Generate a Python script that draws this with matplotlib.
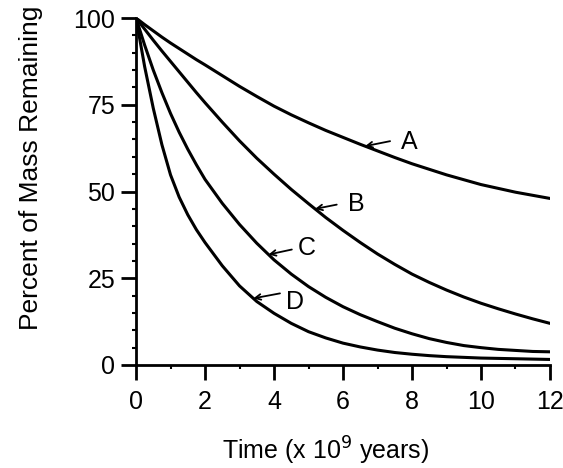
import numpy as np
import matplotlib
matplotlib.use("Agg")
import matplotlib.pyplot as plt
from matplotlib.ticker import MultipleLocator

# values (time in 10^9 years, percent of mass left)
time = [0, 0.25, 0.5, 0.75, 1, 1.25, 1.5, 1.75, 2, 2.5, 3, 3.5, 4, 4.5, 5, 5.5,
        6, 6.5, 7, 7.5, 8, 8.5, 9, 9.5, 10, 10.5, 11, 11.5, 12]
mass_a = [100, 98.1, 96.3, 94.5, 92.8, 91.2, 89.6, 88.0, 86.5, 83.4, 80.3, 77.4, 74.6, 72.1, 69.8, 67.6,
          65.6, 63.6, 61.7, 59.8, 58.0, 56.4, 54.8, 53.4, 52.0, 50.9, 49.8, 48.9, 48.0]
mass_b = [100, 96.8, 93.6, 90.5, 87.5, 84.5, 81.5, 78.5, 75.6, 70.0, 64.6, 59.6, 55.0, 50.6, 46.5, 42.5,
          38.8, 35.3, 32.0, 29.0, 26.2, 23.8, 21.6, 19.6, 17.8, 16.2, 14.7, 13.3, 12.0]
mass_c = [100, 92.2, 85.0, 78.5, 72.5, 67.1, 62.2, 57.7, 53.5, 46.6, 40.5, 35.1, 30.3, 26.2, 22.6, 19.5,
          16.8, 14.5, 12.5, 10.6, 9.0, 7.6, 6.5, 5.6, 5.0, 4.5, 4.2, 3.9, 3.8]
mass_d = [100, 86.0, 74.0, 63.5, 54.8, 48.4, 43.3, 39.0, 35.3, 28.6, 22.8, 18.3, 14.9, 12.0, 9.6, 7.8,
          6.3, 5.2, 4.3, 3.6, 3.1, 2.7, 2.4, 2.2, 2.0, 1.9, 1.8, 1.7, 1.6]

curve_names = ["A", "B", "C", "D"]
label_times = [6.64, 5.19, 3.84, 3.4]   # where each label arrow touches its curve
arrow_tails = [(18, 3.6), (15.6, 3.1), (16.8, 3.6), (19.2, 3.6)]   # offset points
text_offsets = [(32, 2.9), (29.5, 3.6), (27.6, 4.8), (30, -2.4)]

plt.rcParams["font.family"] = ["Liberation Sans", "DejaVu Sans"]

fig = plt.figure(figsize=(5.63, 4.68), dpi=100)
ax = fig.add_axes([0.2416, 0.2201, 0.7353, 0.7414])

series = [mass_a, mass_b, mass_c, mass_d]
for name, vals, lt, tail, toff in zip(curve_names, series, label_times, arrow_tails, text_offsets):
    ax.plot(time, vals, color="black", lw=2.2, solid_capstyle="round")
    # little arrow pointing at the curve, then the letter
    y_at = np.interp(lt, time, vals)
    ax.annotate("", xy=(lt, y_at), xytext=tail, textcoords="offset points",
                arrowprops=dict(arrowstyle="->", color="black", lw=1.3,
                                shrinkA=0, shrinkB=0, mutation_scale=10))
    ax.annotate(name, xy=(lt, y_at), xytext=toff, textcoords="offset points",
                fontsize=18, ha="center", va="center")

ax.set_xlim(0, 12)
ax.set_ylim(0, 100)
ax.xaxis.set_major_locator(MultipleLocator(2))
ax.xaxis.set_minor_locator(MultipleLocator(1))
ax.yaxis.set_major_locator(MultipleLocator(25))
ax.yaxis.set_minor_locator(MultipleLocator(5))

for side in ["top", "right"]:
    ax.spines[side].set_visible(False)
for side in ["left", "bottom"]:
    ax.spines[side].set_linewidth(2)

ax.tick_params(which="major", direction="out", length=11, width=2, labelsize=18)
ax.tick_params(axis="x", which="major", pad=7)
ax.tick_params(axis="y", which="major", pad=4)
ax.tick_params(which="minor", direction="out", length=3, width=1.5)

ax.set_xlabel("Time (x 10$^9$ years)", fontsize=18)
ax.set_ylabel("Percent of Mass Remaining", fontsize=19)
ax.xaxis.set_label_coords(0.459, -0.2)
ax.yaxis.set_label_coords(-0.225, 0.568)

fig.savefig("out.png", dpi=100)
